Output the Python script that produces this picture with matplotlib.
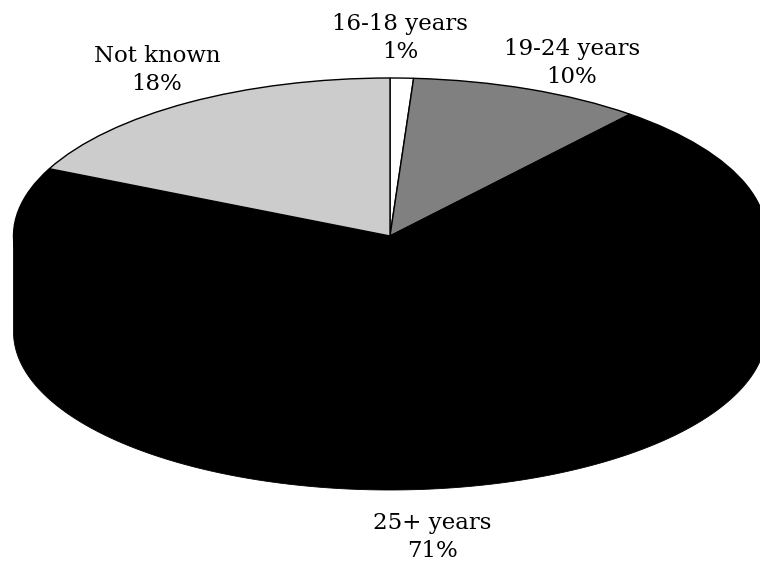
import numpy as np
import matplotlib
matplotlib.use("Agg")
import matplotlib.pyplot as plt

# Age bands, clockwise from twelve o'clock
categories = ["16-18 years", "19-24 years", "25+ years", "Not known"]
shares = [1, 10, 71, 18]
slice_colors = ["#FFFFFF", "#808080", "#000000", "#CCCCCC"]

WIDTH, HEIGHT = 760, 569
CX, CY = 390.0, 236.0    # centre of the top face, px
RX, RY = 376.5, 158.0    # semi-axes of the top face, px
THICKNESS = 96.0 / RY    # disc thickness in units of RY

fig = plt.figure(figsize=(WIDTH / 100, HEIGHT / 100), dpi=100)
ax = fig.add_axes([0, 0, 1, 1])

# Rim of the disc: each slice's visible front edge, lowest layer
fractions = np.array(shares, dtype=float) / sum(shares)
edges = np.pi / 2 - 2 * np.pi * np.concatenate([[0], np.cumsum(fractions)])
for start, stop, color in zip(edges[:-1], edges[1:], slice_colors):
    t = np.linspace(start, stop, 400)
    t = t[np.sin(t) <= 0]
    if t.size:
        x, y = np.cos(t), np.sin(t)
        ax.fill(np.r_[x, x[::-1]], np.r_[y, y[::-1] - THICKNESS],
                color=color, lw=0.6, zorder=1)

# Top face
ax.pie(shares, colors=slice_colors, startangle=90, counterclock=False,
       radius=1, center=(0, 0), frame=True,
       wedgeprops=dict(edgecolor="black", linewidth=1.0, zorder=2))

ax.set_aspect("auto")
ax.set_xlim((0 - CX) / RX, (WIDTH - CX) / RX)
ax.set_ylim((CY - HEIGHT) / RY, CY / RY)
ax.axis("off")

# Two-line slice labels, placed in pixel coordinates
label_px = [(400, 38), (572, 63), (432, 537), (157, 70)]
for name, share, (px, py) in zip(categories, shares, label_px):
    ax.text((px - CX) / RX, (CY - py) / RY, f"{name}\n{share}%",
            ha="center", va="center", family="DejaVu Serif",
            fontsize=16.5, linespacing=1.32, color="black", zorder=3)

fig.savefig("out.png", dpi=100)
